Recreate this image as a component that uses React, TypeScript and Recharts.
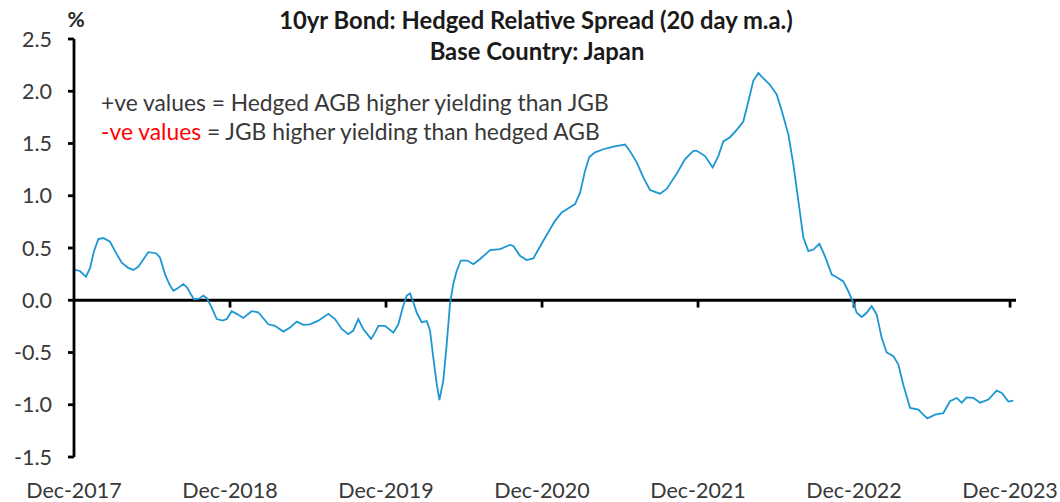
import React from 'react';
import { LineChart, Line, XAxis, YAxis, ReferenceLine } from 'recharts';

// x: years since Dec-2017
const yearTicks = [0, 1, 2, 3, 4, 5, 6];
const tickLabels = ['Dec-2017', 'Dec-2018', 'Dec-2019', 'Dec-2020', 'Dec-2021', 'Dec-2022', 'Dec-2023'];
const yTicks = [-1.5, -1, -0.5, 0, 0.5, 1, 1.5, 2, 2.5];

const timeYears = [
  0.006, 0.038, 0.077, 0.103, 0.128, 0.156, 0.188, 0.231, 0.263, 0.306, 0.348, 0.38, 0.412, 0.44, 0.476,
  0.526, 0.551, 0.583, 0.611, 0.637, 0.669, 0.701, 0.726, 0.748, 0.769, 0.803, 0.829, 0.851, 0.883, 0.915,
  0.953, 0.979, 1.011, 1.043, 1.085, 1.139, 1.181, 1.246, 1.288, 1.342, 1.385, 1.428, 1.47, 1.513, 1.566,
  1.63, 1.673, 1.716, 1.758, 1.79, 1.822, 1.854, 1.904, 1.929, 1.951, 1.994,
  2.047, 2.079, 2.107, 2.133, 2.154, 2.175, 2.197, 2.229, 2.261, 2.282, 2.303, 2.325, 2.342, 2.367, 2.389,
  2.41, 2.431, 2.453, 2.479, 2.521, 2.56, 2.603, 2.667, 2.731, 2.795, 2.816, 2.859, 2.902, 2.944, 3.008,
  3.083, 3.126, 3.169, 3.212, 3.244, 3.276, 3.303, 3.34, 3.393, 3.457, 3.532, 3.564, 3.607, 3.649, 3.692,
  3.756, 3.799, 3.863, 3.917, 3.97,
  3.992, 4.045, 4.094, 4.13, 4.162, 4.205, 4.248, 4.29, 4.322, 4.354, 4.387, 4.408, 4.462, 4.504, 4.537,
  4.579, 4.611, 4.643, 4.675, 4.707, 4.739, 4.778, 4.814, 4.857, 4.889, 4.931, 4.963, 4.992, 5.017, 5.049,
  5.081, 5.113, 5.145, 5.177, 5.209, 5.252, 5.284, 5.316, 5.359, 5.412, 5.444, 5.47, 5.519, 5.572, 5.615,
  5.658, 5.69, 5.722, 5.765, 5.808, 5.861, 5.914, 5.947, 5.989, 6.021,
];

const spread = [
  0.29, 0.28, 0.225, 0.31, 0.47, 0.585, 0.595, 0.56, 0.47, 0.36, 0.31, 0.29, 0.32, 0.38, 0.46,
  0.45, 0.41, 0.25, 0.155, 0.09, 0.12, 0.155, 0.12, 0.06, 0.01, 0.015, 0.045, 0.02, -0.07, -0.18,
  -0.195, -0.18, -0.105, -0.13, -0.17, -0.105, -0.115, -0.23, -0.245, -0.3, -0.26, -0.205, -0.235, -0.23, -0.195,
  -0.13, -0.18, -0.275, -0.325, -0.29, -0.18, -0.275, -0.37, -0.31, -0.245, -0.245,
  -0.31, -0.23, -0.07, 0.045, 0.065, -0.02, -0.12, -0.21, -0.2, -0.29, -0.55, -0.8, -0.955, -0.77, -0.42,
  -0.035, 0.155, 0.28, 0.38, 0.38, 0.345, 0.395, 0.48, 0.49, 0.53, 0.52, 0.425, 0.385, 0.4, 0.57,
  0.76, 0.84, 0.88, 0.92, 1.03, 1.24, 1.37, 1.415, 1.445, 1.47, 1.49, 1.425, 1.32, 1.175, 1.055,
  1.02, 1.065, 1.21, 1.35, 1.43,
  1.43, 1.38, 1.27, 1.38, 1.52, 1.56, 1.63, 1.71, 1.9, 2.1, 2.175, 2.14, 2.06, 1.97, 1.81,
  1.585, 1.3, 0.95, 0.6, 0.47, 0.485, 0.54, 0.42, 0.245, 0.22, 0.18, 0.086, -0.01, -0.12, -0.16,
  -0.12, -0.057, -0.137, -0.36, -0.5, -0.535, -0.615, -0.81, -1.03, -1.046, -1.094, -1.13, -1.094, -1.08, -0.966,
  -0.935, -0.98, -0.93, -0.935, -0.98, -0.95, -0.865, -0.887, -0.97, -0.96,
];

const data = timeYears.map((t, i) => ({ t, v: spread[i] }));

const FONT = 'Lato, "Open Sans", sans-serif';
const TEXT = '#383838';
const AXIS_W = 2.8;

export default function App() {
  return (
    <div style={{ position: 'absolute', left: 0, top: 0, width: 1060, height: 502, background: '#fff', fontFamily: FONT }}>
      <LineChart width={1060} height={502} data={data} margin={{ top: 39, right: 44, bottom: 0, left: 0 }}>
        <XAxis
          dataKey="t"
          type="number"
          domain={[0, 6.038]}
          ticks={yearTicks}
          interval={0}
          tickFormatter={(i: number) => tickLabels[i]}
          axisLine={false}
          tickLine={false}
          tickSize={0}
          tickMargin={26}
          height={45}
          tick={{ fill: TEXT, fontSize: 21.5, fontFamily: FONT }}
        />
        <YAxis
          type="number"
          domain={[-1.5, 2.5]}
          ticks={yTicks}
          interval={0}
          width={74}
          tickFormatter={(v: number) => v.toFixed(1)}
          axisLine={{ stroke: '#000', strokeWidth: AXIS_W }}
          tickLine={{ stroke: '#000', strokeWidth: AXIS_W }}
          tickSize={6}
          tickMargin={16}
          tick={{ fill: TEXT, fontSize: 21.5, fontFamily: FONT }}
        />
        <ReferenceLine y={0} stroke="#000" strokeWidth={AXIS_W} />
        {yearTicks.slice(1).map((k) => (
          <ReferenceLine
            key={k}
            segment={[{ x: k, y: 0 }, { x: k, y: -0.07 }]}
            stroke="#000"
            strokeWidth={AXIS_W}
          />
        ))}
        <Line
          type="linear"
          dataKey="v"
          stroke="#1c97d3"
          strokeWidth={1.8}
          dot={false}
          isAnimationActive={false}
        />
      </LineChart>
      <svg
        width={1060}
        height={502}
        style={{ position: 'absolute', left: 0, top: 0, pointerEvents: 'none' }}
      >
        <text x={76} y={27} textAnchor="middle" fontSize={21} fontWeight="bold" fill="#262626" fontFamily={FONT}>%</text>
        <text x={536} y={29} textAnchor="middle" fontSize={23.8} fontWeight="bold" fill="#1a1a1a" fontFamily={FONT}>
          10yr Bond: Hedged Relative Spread (20 day m.a.)
        </text>
        <text x={537} y={60} textAnchor="middle" fontSize={23.8} fontWeight="bold" fill="#1a1a1a" fontFamily={FONT}>
          Base Country: Japan
        </text>
        <text x={101} y={111} fontSize={22.8} fill={TEXT} fontFamily={FONT}>
          +ve values = Hedged AGB higher yielding than JGB
        </text>
        <text x={101} y={140} fontSize={22.8} fill={TEXT} fontFamily={FONT}>
          <tspan fill="#ff0000">-ve values</tspan>
          <tspan> = JGB higher yielding than hedged AGB</tspan>
        </text>
      </svg>
    </div>
  );
}
